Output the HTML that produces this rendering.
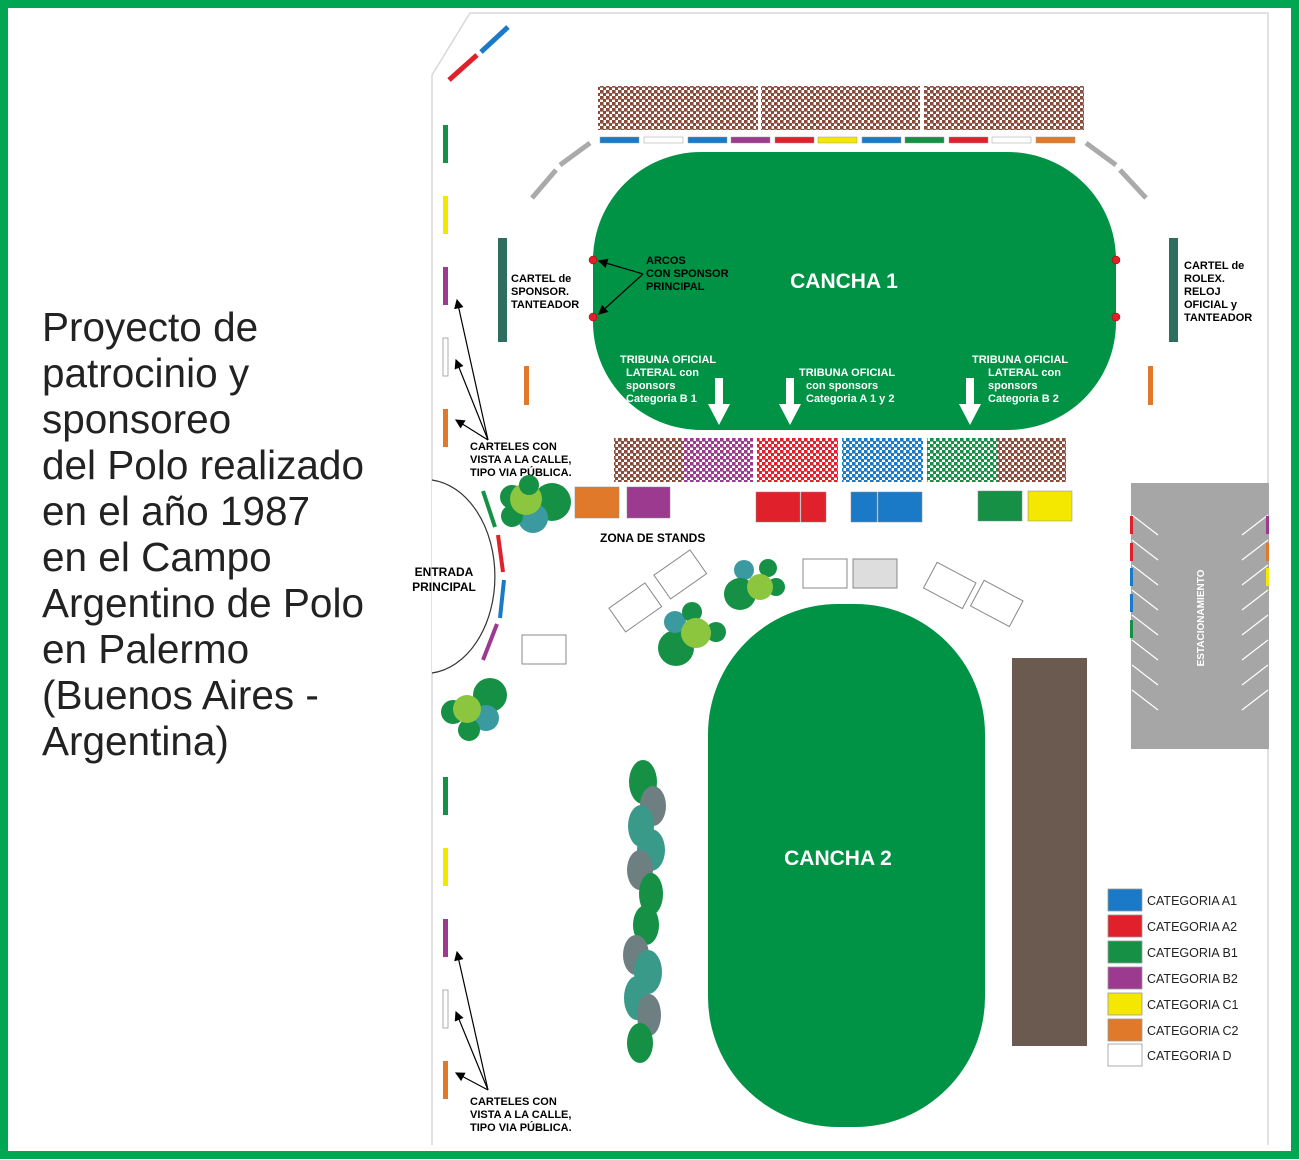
<!DOCTYPE html>
<html><head><meta charset="utf-8"><style>
html,body{margin:0;padding:0;background:#fff}
svg{display:block}
text{font-family:"Liberation Sans",Arial,sans-serif}
</style></head><body>
<svg width="1299" height="1160" viewBox="0 0 1299 1160" xmlns="http://www.w3.org/2000/svg">
<defs>
<pattern id="pb" width="6" height="6" patternUnits="userSpaceOnUse"><rect width="6" height="6" fill="#fff"/><rect width="3.6" height="3.6" fill="#8b4a3a"/><rect x="3" y="3" width="3.6" height="3.6" fill="#8b4a3a"/></pattern>
<pattern id="pp" width="6" height="6" patternUnits="userSpaceOnUse"><rect width="6" height="6" fill="#fff"/><rect width="3.6" height="3.6" fill="#9b3a8e"/><rect x="3" y="3" width="3.6" height="3.6" fill="#9b3a8e"/></pattern>
<pattern id="pr" width="6" height="6" patternUnits="userSpaceOnUse"><rect width="6" height="6" fill="#fff"/><rect width="3.6" height="3.6" fill="#e0202a"/><rect x="3" y="3" width="3.6" height="3.6" fill="#e0202a"/></pattern>
<pattern id="pbl" width="6" height="6" patternUnits="userSpaceOnUse"><rect width="6" height="6" fill="#fff"/><rect width="3.6" height="3.6" fill="#1a7ac8"/><rect x="3" y="3" width="3.6" height="3.6" fill="#1a7ac8"/></pattern>
<pattern id="pg" width="6" height="6" patternUnits="userSpaceOnUse"><rect width="6" height="6" fill="#fff"/><rect width="3.6" height="3.6" fill="#159045"/><rect x="3" y="3" width="3.6" height="3.6" fill="#159045"/></pattern>
<marker id="ar" markerWidth="8" markerHeight="8" refX="7" refY="4" orient="auto"><path d="M0,0 L8,4 L0,8 z" fill="#000"/></marker>
</defs>
<rect width="1299" height="1160" fill="#fff"/>
<rect x="4" y="4" width="1291" height="1151" fill="none" stroke="#00a651" stroke-width="8"/>
<path d="M432,1145 L432,75 L470,13 L1268,13 L1268,1145" fill="none" stroke="#d8d8d8" stroke-width="1.5"/>
<path d="M432,480 A70,97 0 0 1 432,673" fill="#fff" stroke="#333" stroke-width="1.2"/>
<line x1="449" y1="80" x2="477" y2="55" stroke="#e0202a" stroke-width="5"/>
<line x1="481" y1="52" x2="508" y2="27" stroke="#1a7ac8" stroke-width="5"/>
<rect x="443" y="125" width="5" height="38" fill="#159045"/>
<rect x="443" y="196" width="5" height="38" fill="#f5e800"/>
<rect x="443" y="267" width="5" height="38" fill="#9b3a8e"/>
<rect x="443" y="338" width="5" height="38" fill="#fff" stroke="#999" stroke-width="0.8"/>
<rect x="443" y="409" width="5" height="38" fill="#e07a2a"/>
<rect x="443" y="777" width="5" height="38" fill="#159045"/>
<rect x="443" y="848" width="5" height="38" fill="#f5e800"/>
<rect x="443" y="919" width="5" height="38" fill="#9b3a8e"/>
<rect x="443" y="990" width="5" height="38" fill="#fff" stroke="#999" stroke-width="0.8"/>
<rect x="443" y="1061" width="5" height="38" fill="#e07a2a"/>
<line x1="483" y1="491" x2="495" y2="527" stroke="#159045" stroke-width="4"/>
<line x1="498" y1="535" x2="503" y2="572" stroke="#e0202a" stroke-width="4"/>
<line x1="504" y1="580" x2="500" y2="618" stroke="#1a7ac8" stroke-width="4"/>
<line x1="497" y1="624" x2="483" y2="660" stroke="#9b3a8e" stroke-width="4"/>
<text x="444" y="576" font-size="12" font-weight="bold" text-anchor="middle">ENTRADA</text>
<text x="444" y="591" font-size="12" font-weight="bold" text-anchor="middle">PRINCIPAL</text>
<g stroke="#000" stroke-width="1.2" marker-end="url(#ar)">
<line x1="488" y1="440" x2="457" y2="300"/>
<line x1="488" y1="440" x2="456" y2="360"/>
<line x1="488" y1="440" x2="456" y2="420"/>
<line x1="488" y1="1090" x2="457" y2="952"/>
<line x1="488" y1="1090" x2="456" y2="1012"/>
<line x1="488" y1="1090" x2="456" y2="1073"/>
</g>
<g font-size="11" font-weight="bold">
<text x="470" y="450">CARTELES CON</text><text x="470" y="463">VISTA A LA CALLE,</text><text x="470" y="476">TIPO VIA PÚBLICA.</text>
<text x="470" y="1105">CARTELES CON</text><text x="470" y="1118">VISTA A LA CALLE,</text><text x="470" y="1131">TIPO VIA PÚBLICA.</text>
</g>
<rect x="598" y="86" width="160" height="44" fill="url(#pb)"/>
<rect x="761" y="86" width="159" height="44" fill="url(#pb)"/>
<rect x="924" y="86" width="160" height="44" fill="url(#pb)"/>
<g stroke="#999" stroke-width="0.5">
<rect x="600" y="137" width="39" height="6" fill="#1a7ac8"/>
<rect x="644" y="137" width="39" height="6" fill="#fff"/>
<rect x="688" y="137" width="39" height="6" fill="#1a7ac8"/>
<rect x="731" y="137" width="39" height="6" fill="#9b3a8e"/>
<rect x="775" y="137" width="39" height="6" fill="#e0202a"/>
<rect x="818" y="137" width="39" height="6" fill="#f5e800"/>
<rect x="862" y="137" width="39" height="6" fill="#1a7ac8"/>
<rect x="905" y="137" width="39" height="6" fill="#159045"/>
<rect x="949" y="137" width="39" height="6" fill="#e0202a"/>
<rect x="992" y="137" width="39" height="6" fill="#fff"/>
<rect x="1036" y="137" width="39" height="6" fill="#e07a2a"/>
</g>
<g stroke="#aaa" stroke-width="5">
<line x1="590" y1="143" x2="560" y2="165"/><line x1="556" y1="170" x2="532" y2="198"/>
<line x1="1086" y1="143" x2="1116" y2="165"/><line x1="1120" y1="170" x2="1146" y2="198"/>
</g>
<rect x="593" y="152" width="523" height="278" rx="108" ry="108" fill="#009245"/>
<text x="844" y="288" font-size="21" font-weight="bold" fill="#fff" text-anchor="middle">CANCHA 1</text>
<g fill="#e0202a" stroke="#900" stroke-width="0.5"><circle cx="593" cy="260" r="4"/><circle cx="593" cy="317" r="4"/><circle cx="1116" cy="260" r="4"/><circle cx="1116" cy="317" r="4"/></g>
<g font-size="11" font-weight="bold"><text x="646" y="264">ARCOS</text><text x="646" y="277">CON SPONSOR</text><text x="646" y="290">PRINCIPAL</text></g>
<g stroke="#000" stroke-width="1.2" marker-end="url(#ar)"><line x1="643" y1="274" x2="599" y2="261"/><line x1="643" y1="274" x2="599" y2="314"/></g>
<g font-size="11" font-weight="bold" fill="#fff">
<text x="620" y="363">TRIBUNA OFICIAL</text><text x="626" y="376">LATERAL con</text><text x="626" y="389">sponsors</text><text x="626" y="402">Categoria B 1</text>
<text x="799" y="376">TRIBUNA OFICIAL</text><text x="806" y="389">con sponsors</text><text x="806" y="402">Categoria A 1 y 2</text>
<text x="972" y="363">TRIBUNA OFICIAL</text><text x="988" y="376">LATERAL con</text><text x="988" y="389">sponsors</text><text x="988" y="402">Categoria B 2</text>
</g>
<g fill="#fff"><path d="M715,378 h8 v26 h7 l-11,21 l-11,-21 h7z"/><path d="M786,378 h8 v26 h7 l-11,21 l-11,-21 h7z"/><path d="M966,378 h8 v26 h7 l-11,21 l-11,-21 h7z"/></g>
<rect x="498" y="238" width="9" height="104" fill="#2e6e5e"/>
<rect x="1169" y="238" width="9" height="104" fill="#2e6e5e"/>
<rect x="524" y="366" width="5" height="39" fill="#e07a2a"/>
<rect x="1148" y="366" width="5" height="39" fill="#e07a2a"/>
<g font-size="11" font-weight="bold"><text x="511" y="282">CARTEL de</text><text x="511" y="295">SPONSOR.</text><text x="511" y="308">TANTEADOR</text>
<text x="1184" y="269">CARTEL de</text><text x="1184" y="282">ROLEX.</text><text x="1184" y="295">RELOJ</text><text x="1184" y="308">OFICIAL y</text><text x="1184" y="321">TANTEADOR</text></g>
<rect x="614" y="438" width="70" height="44" fill="url(#pb)"/>
<rect x="684" y="438" width="69" height="44" fill="url(#pp)"/>
<rect x="757" y="438" width="81" height="44" fill="url(#pr)"/>
<rect x="842" y="438" width="81" height="44" fill="url(#pbl)"/>
<rect x="927" y="438" width="70" height="44" fill="url(#pg)"/>
<rect x="997" y="438" width="69" height="44" fill="url(#pb)"/>
<g stroke="#888" stroke-width="0.5">
<rect x="575" y="487" width="44" height="31" fill="#e07a2a"/>
<rect x="627" y="487" width="43" height="31" fill="#9b3a8e"/>
<rect x="756" y="492" width="44" height="30" fill="#e0202a"/><rect x="801" y="492" width="25" height="30" fill="#e0202a"/>
<rect x="851" y="492" width="26" height="30" fill="#1a7ac8"/><rect x="878" y="492" width="44" height="30" fill="#1a7ac8"/>
<rect x="978" y="491" width="44" height="30" fill="#159045"/>
<rect x="1028" y="491" width="44" height="30" fill="#f5e800"/>
</g>
<text x="600" y="542" font-size="12" font-weight="bold">ZONA DE STANDS</text>
<g fill="#fff" stroke="#888" stroke-width="1">
<rect x="803" y="559" width="44" height="29"/>
<rect x="853" y="559" width="44" height="29" fill="#ddd"/>
<rect x="522" y="635" width="44" height="29"/>
<rect x="-22" y="-14" width="44" height="29" transform="translate(635,607) rotate(-35)"/>
<rect x="-22" y="-14" width="44" height="29" transform="translate(680,574) rotate(-35)"/>
<rect x="-22" y="-14" width="44" height="29" transform="translate(950,585) rotate(28)"/>
<rect x="-22" y="-14" width="44" height="29" transform="translate(997,603) rotate(28)"/>
</g>
<g>
<circle cx="512" cy="497" r="12" fill="#159045"/><circle cx="552" cy="502" r="19" fill="#159045"/><circle cx="533" cy="518" r="15" fill="#3a9aa0"/><circle cx="512" cy="516" r="11" fill="#159045"/><circle cx="526" cy="499" r="16" fill="#8cc63f"/><circle cx="529" cy="485" r="10" fill="#159045"/>
<circle cx="744" cy="570" r="10" fill="#3a9aa0"/><circle cx="740" cy="594" r="16" fill="#159045"/><circle cx="768" cy="568" r="9" fill="#159045"/><circle cx="776" cy="587" r="9" fill="#159045"/><circle cx="760" cy="587" r="13" fill="#8cc63f"/>
<circle cx="676" cy="648" r="18" fill="#159045"/><circle cx="675" cy="622" r="11" fill="#3a9aa0"/><circle cx="692" cy="612" r="10" fill="#159045"/><circle cx="716" cy="632" r="10" fill="#159045"/><circle cx="696" cy="633" r="15" fill="#8cc63f"/>
<circle cx="490" cy="695" r="17" fill="#159045"/><circle cx="453" cy="712" r="12" fill="#159045"/><circle cx="486" cy="718" r="13" fill="#3a9aa0"/><circle cx="469" cy="730" r="11" fill="#159045"/><circle cx="467" cy="709" r="14" fill="#8cc63f"/>
</g>
<g>
<ellipse cx="643" cy="782" rx="14" ry="22" fill="#159045"/>
<ellipse cx="653" cy="806" rx="13" ry="20" fill="#6e7f82"/>
<ellipse cx="641" cy="826" rx="13" ry="21" fill="#3a9a8a"/>
<ellipse cx="651" cy="850" rx="14" ry="21" fill="#3a9a8a"/>
<ellipse cx="640" cy="870" rx="13" ry="20" fill="#6e7f82"/>
<ellipse cx="651" cy="894" rx="12" ry="21" fill="#159045"/>
<ellipse cx="646" cy="925" rx="13" ry="20" fill="#159045"/>
<ellipse cx="636" cy="955" rx="13" ry="20" fill="#6e7f82"/>
<ellipse cx="648" cy="972" rx="14" ry="22" fill="#3a9a8a"/>
<ellipse cx="637" cy="998" rx="13" ry="22" fill="#3a9a8a"/>
<ellipse cx="649" cy="1015" rx="12" ry="21" fill="#6e7f82"/>
<ellipse cx="640" cy="1043" rx="13" ry="20" fill="#159045"/>
</g>
<rect x="708" y="604" width="277" height="523" rx="130" ry="130" fill="#009245"/>
<text x="838" y="865" font-size="21" font-weight="bold" fill="#fff" text-anchor="middle">CANCHA 2</text>
<rect x="1012" y="658" width="75" height="388" fill="#6b5a50"/>
<rect x="1131" y="483" width="138" height="266" fill="#a6a6a6"/>
<g stroke="#fff" stroke-width="1.2">
<line x1="1132" y1="515" x2="1158" y2="535"/><line x1="1132" y1="540" x2="1158" y2="560"/><line x1="1132" y1="565" x2="1158" y2="585"/><line x1="1132" y1="590" x2="1158" y2="610"/><line x1="1132" y1="615" x2="1158" y2="635"/><line x1="1132" y1="640" x2="1158" y2="660"/><line x1="1132" y1="665" x2="1158" y2="685"/><line x1="1132" y1="690" x2="1158" y2="710"/>
<line x1="1268" y1="515" x2="1242" y2="535"/><line x1="1268" y1="540" x2="1242" y2="560"/><line x1="1268" y1="565" x2="1242" y2="585"/><line x1="1268" y1="590" x2="1242" y2="610"/><line x1="1268" y1="615" x2="1242" y2="635"/><line x1="1268" y1="640" x2="1242" y2="660"/><line x1="1268" y1="665" x2="1242" y2="685"/><line x1="1268" y1="690" x2="1242" y2="710"/>
</g>
<g><rect x="1130" y="516" width="3" height="18" fill="#e0202a"/><rect x="1130" y="543" width="3" height="18" fill="#e0202a"/><rect x="1130" y="568" width="3" height="18" fill="#1a7ac8"/><rect x="1130" y="594" width="3" height="18" fill="#1a7ac8"/><rect x="1130" y="620" width="3" height="18" fill="#159045"/>
<rect x="1266" y="516" width="3" height="18" fill="#9b3a8e"/><rect x="1266" y="543" width="3" height="18" fill="#e07a2a"/><rect x="1266" y="568" width="3" height="18" fill="#f5e800"/></g>
<text transform="translate(1204,618) rotate(-90)" font-size="10" font-weight="bold" fill="#fff" text-anchor="middle">ESTACIONAMIENTO</text>
<g stroke="#999" stroke-width="0.8">
<rect x="1108" y="889" width="34" height="22" fill="#1a7ac8"/>
<rect x="1108" y="915" width="34" height="22" fill="#e0202a"/>
<rect x="1108" y="941" width="34" height="22" fill="#159045"/>
<rect x="1108" y="967" width="34" height="22" fill="#9b3a8e"/>
<rect x="1108" y="993" width="34" height="22" fill="#f5e800"/>
<rect x="1108" y="1019" width="34" height="22" fill="#e07a2a"/>
<rect x="1108" y="1044" width="34" height="22" fill="#fff"/>
</g>
<g font-size="12.5" fill="#222"><text x="1147" y="905">CATEGORIA A1</text><text x="1147" y="931">CATEGORIA A2</text><text x="1147" y="957">CATEGORIA B1</text><text x="1147" y="983">CATEGORIA B2</text><text x="1147" y="1009">CATEGORIA C1</text><text x="1147" y="1035">CATEGORIA C2</text><text x="1147" y="1060">CATEGORIA D</text></g>
<g font-size="40.5" fill="#222">
<text x="42" y="341">Proyecto de</text>
<text x="42" y="387">patrocinio y</text>
<text x="42" y="433">sponsoreo</text>
<text x="42" y="479">del Polo realizado</text>
<text x="42" y="525">en el año 1987</text>
<text x="42" y="571">en el Campo</text>
<text x="42" y="617">Argentino de Polo</text>
<text x="42" y="663">en Palermo</text>
<text x="42" y="709">(Buenos Aires -</text>
<text x="42" y="755">Argentina)</text>
</g>
</svg>
</body></html>
